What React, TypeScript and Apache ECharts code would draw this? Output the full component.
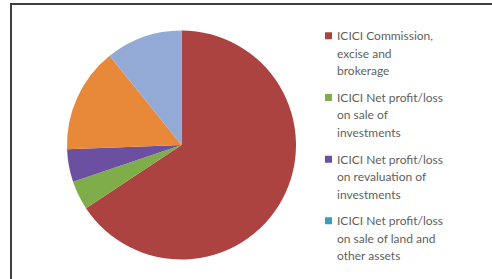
import React, { useEffect, useRef } from "react";
import * as echarts from "echarts";

const categories = [
  "ICICI Commission, excise and brokerage",
  "ICICI Net profit/loss on sale of investments",
  "ICICI Net profit/loss on revaluation of investments",
  "ICICI Net profit/loss on sale of land and other assets",
  "ICICI Interest and dividend",
  "ICICI Other income",
];
const legendLines = [
  "ICICI Commission,\nexcise and\nbrokerage",
  "ICICI Net profit/loss\non sale of\ninvestments",
  "ICICI Net profit/loss\non revaluation of\ninvestments",
  "ICICI Net profit/loss\non sale of land and\nother assets",
];
const values = [65.7, 4.1, 4.6, 0, 14.8, 10.8];
const colors = ["#AD4341", "#7FAD4A", "#6B4FA0", "#3A9EC0", "#E8893A", "#93AAD6"];

export default function App() {
  const ref = useRef<HTMLDivElement>(null);
  useEffect(() => {
    document.body.style.margin = "0";
    const chart = echarts.init(ref.current!, null, { renderer: "svg" });
    chart.setOption({
      animation: false,
      backgroundColor: "#ffffff",
      color: colors,
      graphic: [
        {
          type: "rect",
          shape: { x: 11, y: 4, width: 520, height: 320 },
          style: { fill: "none", stroke: "#3f3f3f", lineWidth: 2 },
          silent: true,
        },
      ],
      legend: {
        orient: "vertical",
        left: 320,
        top: 22,
        data: categories.slice(0, 4),
        selectedMode: false,
        itemWidth: 7,
        itemHeight: 42,
        itemGap: 9.2,
        icon: "path://M0 0H7V7H0Z M0 42H7",
        itemStyle: { borderWidth: 0 },
        formatter: (name: string) => legendLines[categories.indexOf(name)],
        textStyle: {
          fontFamily: "Lato",
          fontSize: 12,
          lineHeight: 17.5,
          color: "#5f5f5f",
        },
      },
      series: [
        {
          type: "pie",
          center: [181.5, 145],
          radius: 114.5,
          startAngle: 90,
          clockwise: true,
          label: { show: false },
          labelLine: { show: false },
          itemStyle: { borderWidth: 0 },
          emphasis: { disabled: true },
          data: categories.map((c, i) => ({ name: c, value: values[i] })),
        },
      ],
    });
    return () => chart.dispose();
  }, []);
  return <div ref={ref} style={{ width: 492, height: 279 }} />;
}
